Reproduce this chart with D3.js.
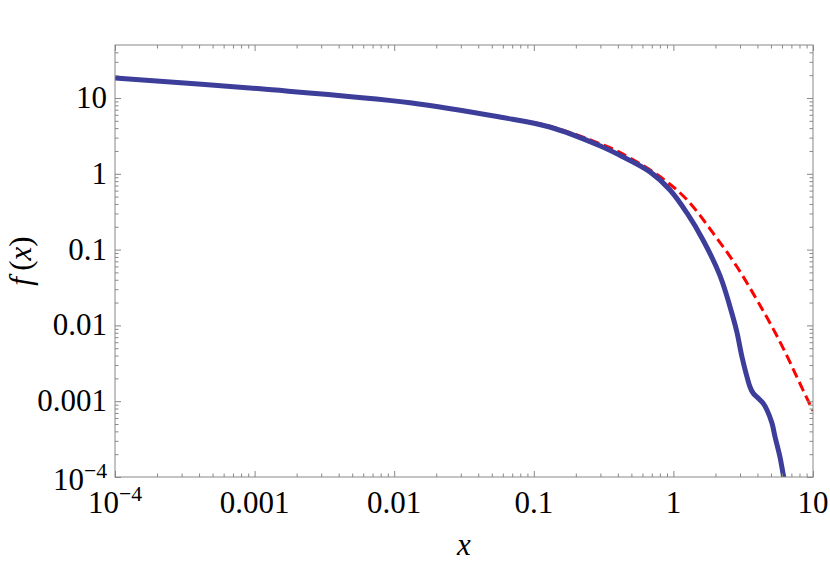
<!DOCTYPE html>
<html>
<head>
<meta charset="utf-8">
<script src="https://cdn.jsdelivr.net/npm/d3@7"></script>
<style>
  body { margin: 0; background: #fff; }
</style>
</head>
<body>
<script>
// values
const blueX = [1e-4, 0.0011, 0.013, 0.057, 0.13, 0.30, 0.41, 0.68, 0.946, 1.25, 1.63, 2.16, 2.67, 2.86, 3.10, 3.37, 3.54, 3.72, 4.04, 4.38, 4.68, 5.08, 5.35, 5.80, 6.19, 6.5];
const blueY = [18.4, 13.2, 8.67, 5.61, 4.14, 2.33, 1.77, 1.06, 0.611, 0.304, 0.134, 0.0449, 0.0129, 0.00794, 0.00383, 0.00208, 0.00154, 0.00128, 0.00110, 0.000946, 0.000766, 0.000515, 0.000337, 0.000184, 0.000097, 0.000067];

const redX = [1e-4, 0.0011, 0.013, 0.057, 0.13, 0.30, 0.41, 0.80, 1.25, 1.92, 2.86, 3.97, 4.68, 5.52, 6.52, 7.67, 10];
const redY = [18.4, 13.2, 8.67, 5.63, 4.25, 2.48, 1.93, 0.92, 0.455, 0.166, 0.0589, 0.0216, 0.0127, 0.00724, 0.00394, 0.00208, 0.000743];

const xTicks = [1e-4, 1e-3, 1e-2, 0.1, 1, 10];
const xTickLabels = [["10", "\u22124"], ["0.001"], ["0.01"], ["0.1"], ["1"], ["10"]];
const yTicks = [1e-4, 1e-3, 1e-2, 0.1, 1, 10];
const yTickLabels = [["10", "\u22124"], ["0.001"], ["0.01"], ["0.1"], ["1"], ["10"]];

const W = 830, H = 567;
const margin = { top: 45, right: 17, bottom: 90, left: 115 };
const width = W - margin.left - margin.right;
const height = H - margin.top - margin.bottom;
const serifFace = "'Liberation Serif'";

const x = d3.scaleLog().domain([1e-4, 10]).range([0, width]);
const y = d3.scaleLog().domain([1e-4, 50]).range([height, 0]);

function minorTicks(lo, hi) {
  const out = [];
  for (let d = -5; d <= 2; d++) {
    for (let k = 2; k <= 9; k++) {
      const v = k * Math.pow(10, d);
      if (v > lo * 1.0001 && v < hi * 0.9999) out.push(v);
    }
  }
  return out;
}
const xMinor = minorTicks(1e-4, 10);
const yMinor = minorTicks(1e-4, 50);

const svg = d3.select("body").append("svg")
  .attr("width", W)
  .attr("height", H);

const g = svg.append("g")
  .attr("transform", "translate(" + margin.left + "," + margin.top + ")");

g.append("defs").append("clipPath")
  .attr("id", "clip")
  .append("rect")
  .attr("width", width)
  .attr("height", height);

// curves
const line = d3.line()
  .x(d => x(d[0]))
  .y(d => y(d[1]))
  .curve(d3.curveCatmullRom.alpha(0.5));

const plot = g.append("g").attr("clip-path", "url(#clip)");

plot.append("path")
  .datum(redX.map((v, i) => [v, redY[i]]))
  .attr("fill", "none")
  .attr("stroke", "#ff0000")
  .attr("stroke-width", 3)
  .attr("stroke-dasharray", "10,5")
  .attr("d", line);

plot.append("path")
  .datum(blueX.map((v, i) => [v, blueY[i]]))
  .attr("fill", "none")
  .attr("stroke", "#3d3d9a")
  .attr("stroke-width", 5)
  .attr("stroke-linejoin", "round")
  .attr("d", line);

// frame ticks (inside, all four sides)
function addAxis(axisFn, scale, vals, size, transform) {
  const a = g.append("g")
    .attr("transform", transform || null)
    .call(axisFn(scale).tickValues(vals).tickSize(-size).tickSizeOuter(0).tickFormat(""));
  a.select(".domain").remove();
  a.selectAll("line").attr("stroke", "#888").attr("stroke-width", 1);
}
addAxis(d3.axisBottom, x, xTicks, 6, "translate(0," + height + ")");
addAxis(d3.axisBottom, x, xMinor, 3.5, "translate(0," + height + ")");
addAxis(d3.axisTop, x, xTicks, 6);
addAxis(d3.axisTop, x, xMinor, 3.5);
addAxis(d3.axisLeft, y, yTicks, 6);
addAxis(d3.axisLeft, y, yMinor, 3.5);
addAxis(d3.axisRight, y, yTicks, 6, "translate(" + width + ",0)");
addAxis(d3.axisRight, y, yMinor, 3.5, "translate(" + width + ",0)");

g.append("rect")
  .attr("width", width)
  .attr("height", height)
  .attr("fill", "none")
  .attr("stroke", "#888")
  .attr("stroke-width", 1);

// tick labels
const fs = 31;
function label(sel, parts) {
  sel.append("tspan").text(parts[0]);
  if (parts[1]) {
    sel.append("tspan")
      .attr("font-size", fs * 0.7)
      .attr("dy", -12)
      .text(parts[1]);
  }
}

xTicks.forEach((v, i) => {
  const t = svg.append("text")
    .attr("x", margin.left + x(v))
    .attr("y", margin.top + height + 36)
    .attr("text-anchor", "middle")
    .style("font-family", serifFace)
    .attr("font-size", fs);
  label(t, xTickLabels[i]);
});

yTicks.forEach((v, i) => {
  const t = svg.append("text")
    .attr("x", margin.left - 8)
    .attr("y", margin.top + y(v) + 10 + (yTickLabels[i][1] ? 3 : 0))
    .attr("text-anchor", "end")
    .style("font-family", serifFace)
    .attr("font-size", fs);
  label(t, yTickLabels[i]);
});

// axis titles
svg.append("text")
  .attr("x", margin.left + width / 2)
  .attr("y", 555)
  .attr("text-anchor", "middle")
  .style("font-family", serifFace)
  .attr("font-size", fs)
  .attr("font-style", "italic")
  .text("x");

const yt = svg.append("text")
  .attr("transform", "translate(31," + (margin.top + height / 2) + ") rotate(-90)")
  .attr("text-anchor", "middle")
  .style("font-family", serifFace)
  .attr("font-size", fs);
yt.append("tspan").attr("font-style", "italic").text("f");
yt.append("tspan").text("\u2009(");
yt.append("tspan").attr("font-style", "italic").text("x");
yt.append("tspan").text(")");
</script>
</body>
</html>
